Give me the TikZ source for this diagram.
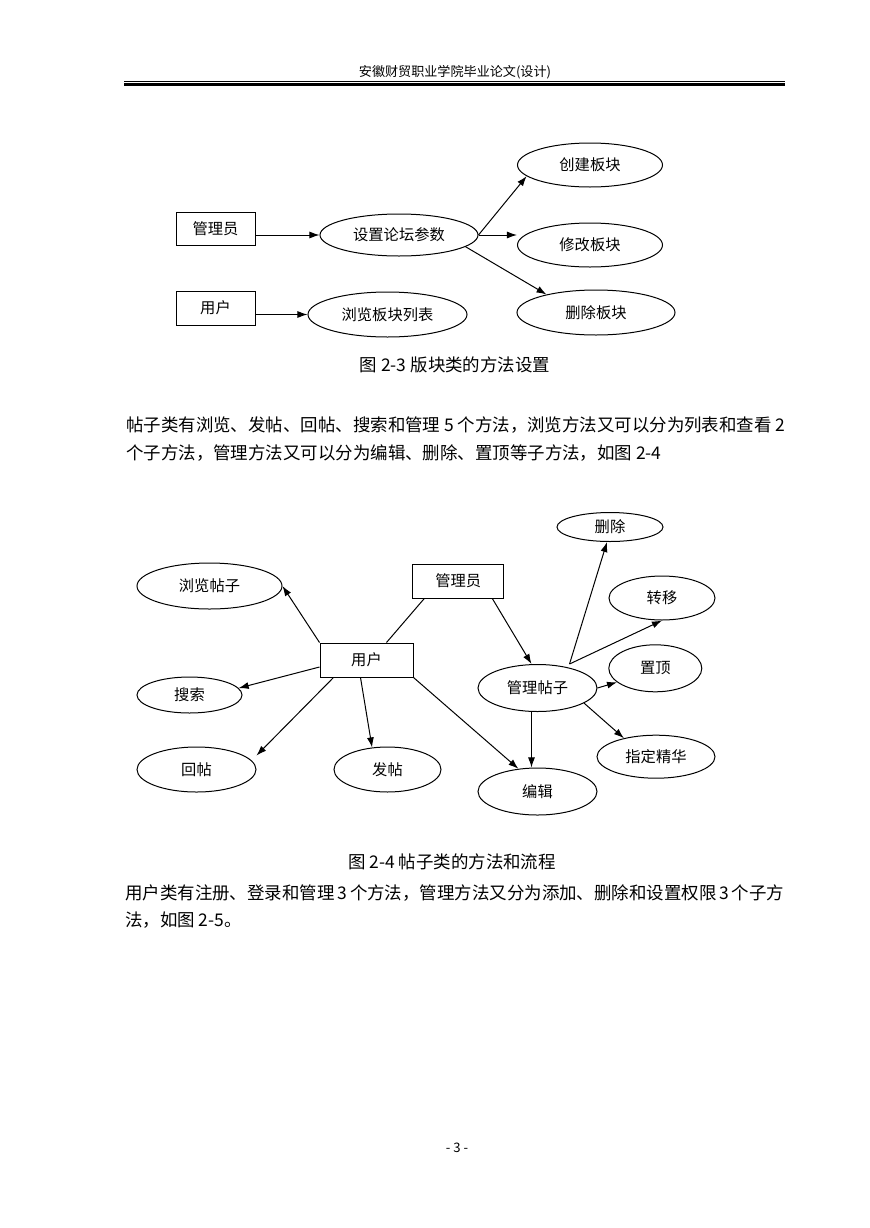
\documentclass[tikz,border=0pt]{standalone}
\usepackage{fontspec}
\setmainfont{Noto Sans CJK SC}
\usetikzlibrary{shapes.geometric,arrows.meta,calc}

\newdimen\pxu
\pxu=0.6877pt

\tikzset{
  box/.style={draw, rectangle, line width=1\pxu, inner sep=0pt, font=\fontsize{10.5pt}{12pt}\selectfont},
  oval/.style={draw, ellipse, line width=1\pxu, inner sep=0pt, font=\fontsize{10.5pt}{12pt}\selectfont},
  arr/.style={line width=1\pxu, -{Latex[length=6.9pt,width=4.8pt]}},
  ln/.style={line width=1\pxu},
  body/.style={anchor=west, inner sep=0pt, font=\fontsize{12pt}{14pt}\selectfont},
  figcap/.style={inner sep=0pt, font=\fontsize{12pt}{14pt}\selectfont}
}

\begin{document}
\begin{tikzpicture}[x=0.6877pt, y=-0.6877pt]
        \useasboundingbox (0,0) rectangle (869,1228);

        % header
        \node[inner sep=0pt, font=\fontsize{9pt}{10pt}\selectfont] (head) at (455,72) {安徽财贸职业学院毕业论文(设计)};
        \draw[line width=1\pxu] (124,81.3) -- (785,81.3);
        \draw[line width=3.3\pxu] (124,84.7) -- (785,84.7);

        % figure 2-3
        \node[box, minimum width=79\pxu, minimum height=33\pxu] (gly1) at (215.5,228.5) {管理员};
        \node[box, minimum width=79\pxu, minimum height=34\pxu] (yh1) at (215.5,308) {用户};
        \node[oval, minimum width=158\pxu, minimum height=42\pxu] (szlt) at (399,235) {设置论坛参数};
        \node[oval, minimum width=159\pxu, minimum height=45\pxu] (lbkl) at (387.5,314.5) {浏览板块列表};
        \node[oval, minimum width=145\pxu, minimum height=44\pxu] (cjbk) at (590,165) {创建板块};
        \node[oval, minimum width=145\pxu, minimum height=44\pxu] (xgbk) at (590,245) {修改板块};
        \node[oval, minimum width=158\pxu, minimum height=45\pxu] (scbk) at (596,312.5) {删除板块};

        \draw[arr] (gly1.east |- szlt.west) -- (szlt.west);
        \draw[arr] (yh1.east |- lbkl.west) -- (lbkl.west);
        \draw[arr] (szlt.east) -- (cjbk.190);
        \draw[arr] (szlt.east) -- (szlt.east -| xgbk.west);
        \draw[arr] (szlt.350) -- (scbk.160);

        \node[figcap] (cap3) at (455,365) {图 2-3 版块类的方法设置};

        % text
        \node[body] (p1a) at (126,425) {\makebox[659\pxu][s]{帖子类有浏览、发帖、回帖、搜索和管理 5 个方法，浏览方法又可以分为列表和查看 2}};
        \node[body] (p1b) at (126,453) {个子方法，管理方法又可以分为编辑、删除、置顶等子方法，如图 2-4};

        % figure 2-4
        \node[oval, minimum width=145\pxu, minimum height=46\pxu] (llt) at (209.5,586) {浏览帖子};
        \node[box, minimum width=91\pxu, minimum height=34\pxu] (gly2) at (458.3,581) {管理员};
        \node[box, minimum width=93\pxu, minimum height=34\pxu] (yh2) at (366.5,660) {用户};
        \node[oval, minimum width=105\pxu, minimum height=36\pxu] (ss) at (189.5,695) {搜索};
        \node[oval, minimum width=119\pxu, minimum height=45\pxu] (ht) at (196.5,769.5) {回帖};
        \node[oval, minimum width=107\pxu, minimum height=45\pxu] (ft) at (387.5,769.5) {发帖};
        \node[oval, minimum width=119\pxu, minimum height=47\pxu] (bj) at (537.5,791.5) {编辑};
        \node[oval, minimum width=119\pxu, minimum height=47\pxu] (gltz) at (537.5,688) {管理帖子};
        \node[oval, minimum width=106\pxu, minimum height=29\pxu] (sc) at (610,527) {删除};
        \node[oval, minimum width=106\pxu, minimum height=44\pxu] (zy) at (662,598) {转移};
        \node[oval, minimum width=93\pxu, minimum height=47\pxu] (zd) at (655.3,668.3) {置顶};
        \node[oval, minimum width=118\pxu, minimum height=43\pxu] (zdjh) at (656,756.7) {指定精华};
        \coordinate (fork) at ([xshift=32\pxu]gltz.north);

        \draw[ln] ([xshift=20\pxu]yh2.north) -- ([xshift=12\pxu]gly2.south west);
        \draw[arr] (yh2.north west) -- (llt.east);
        \draw[arr] ($(yh2.north west)!0.7!(yh2.south west)$) -- (ss.8);
        \draw[arr] ([xshift=14\pxu]yh2.south west) -- ([yshift=14\pxu]ht.east);
        \draw[arr] ([xshift=-6\pxu]yh2.south) -- (ft.125);
        \draw[arr] (yh2.south east) -- (bj.130);
        \draw[arr] ([xshift=-12\pxu]gly2.south east) -- ([xshift=-6\pxu]gltz.north);
        \draw[arr] ([xshift=-6\pxu]gltz.south) -- ([xshift=-6\pxu]bj.north);
        \draw[arr] (fork) -- ([xshift=-3\pxu]sc.south);
        \draw[arr] (fork) -- (zy.south);
        \draw[arr] (gltz.east) -- (zd.200);
        \draw[arr] (gltz.342) -- (zdjh.150);

        \node[figcap] (cap4) at (452,862) {图 2-4 帖子类的方法和流程};

        % text
        \node[body] (p2a) at (125,893) {\makebox[659\pxu][s]{用户类有注册、登录和管理 3 个方法，管理方法又分为添加、删除和设置权限 3 个子方}};
        \node[body] (p2b) at (125,920) {法，如图 2-5。};

        % page number
        \node[inner sep=0pt, font=\fontsize{9pt}{10pt}\selectfont] (pg) at (457,1148) {- 3 -};
\end{tikzpicture}
\end{document}
